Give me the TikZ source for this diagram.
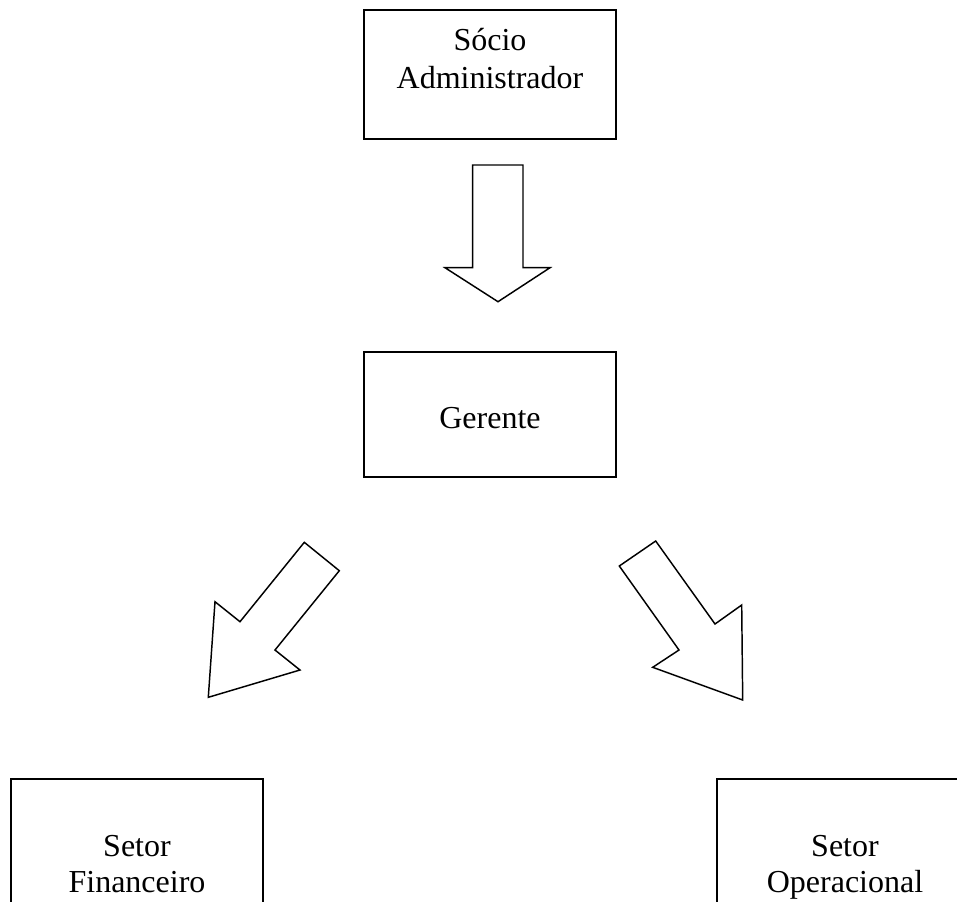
\documentclass[tikz,border=0pt]{standalone}
\usepackage{fontspec}
\setmainfont{Liberation Serif}
\begin{document}
\begin{tikzpicture}[x=0.75pt,y=-0.75pt,
  box/.style={draw, line width=1.5pt, rectangle, inner sep=0pt, outer sep=0pt, minimum width=189pt},
  lbl/.style={inner sep=0pt, anchor=base, font=\fontsize{24pt}{28pt}\selectfont},
  blockarrow/.style={draw, line width=1.1pt, fill=white, line join=miter}]
\useasboundingbox (0,0) rectangle (957,901);
\clip (0,0) rectangle (957,901);
\node[box, minimum height=96.75pt] (socio) at (490,74.5) {};
\node[box, minimum height=93.75pt] (gerente) at (490,414.7) {};
\node[box, minimum height=95.25pt] (fin) at (137,842.5) {};
\node[box, minimum height=95.25pt] (oper) at (843,842.5) {};
\node[lbl] (t1) at (490,50) {Sócio};
\node[lbl] (t2) at (490,88) {Administrador};
\node[lbl] (t3) at (490,428) {Gerente};
\node[lbl] (t4) at (137,856.7) {Setor};
\node[lbl] (t5) at (137,892.5) {Financeiro};
\node[lbl] (t6) at (845,856.7) {Setor};
\node[lbl] (t7) at (845,892) {Operacional};
\draw[blockarrow] (472.7,165) -- (523,165) -- (523,267.7) -- (550,267.7) -- (498,301.7) -- (445,267.7) -- (472.7,267.7) -- cycle;
\draw[blockarrow] (304.3,542.3) -- (339.3,570.7) -- (275,650) -- (300,670) -- (208.3,697.3) -- (215,601.7) -- (240,621.7) -- cycle;
\draw[blockarrow] (655.7,541) -- (619.3,566) -- (679,650) -- (652.7,667.3) -- (742.7,700) -- (741.7,605) -- (715,624) -- cycle;
\end{tikzpicture}
\end{document}
